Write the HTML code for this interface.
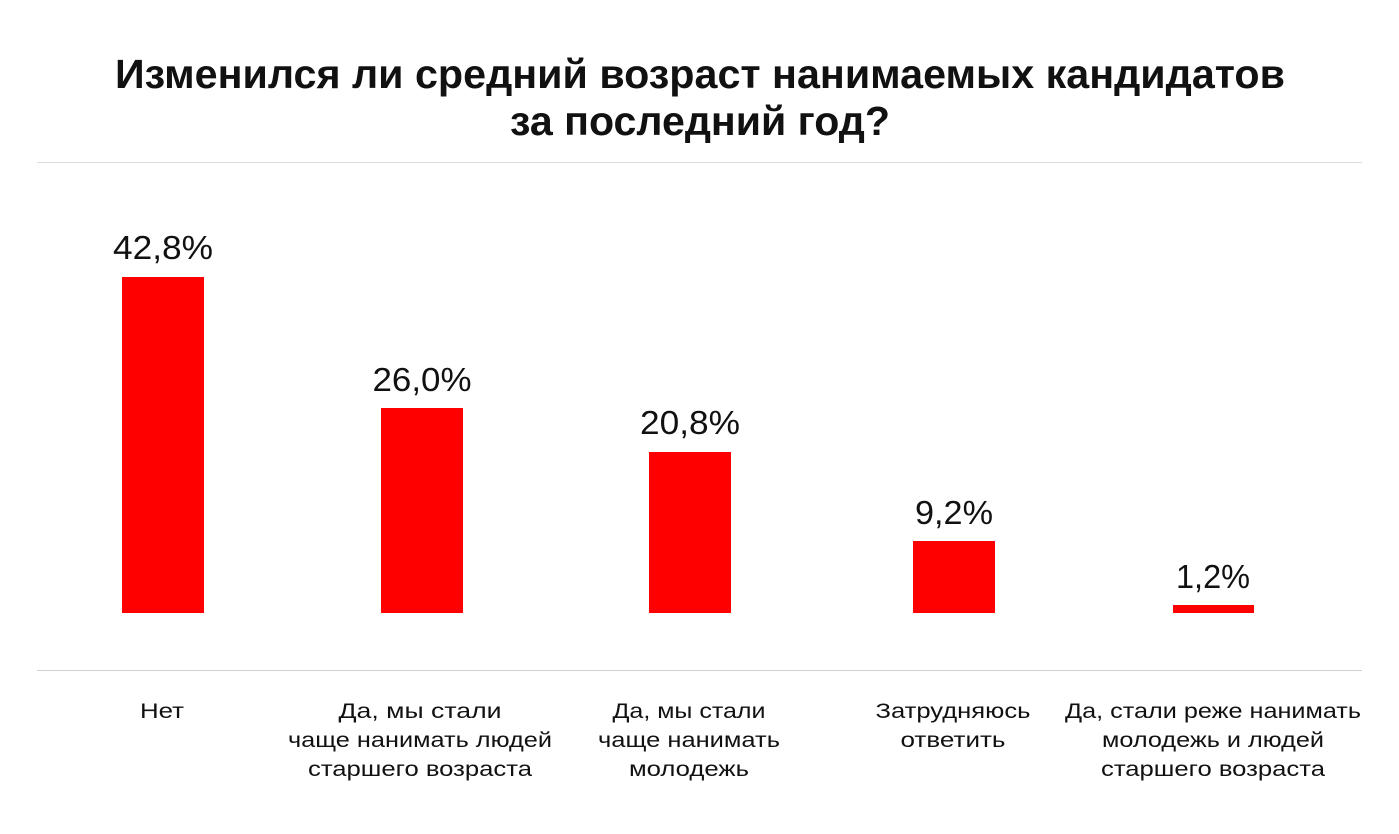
<!DOCTYPE html>
<html><head><meta charset="utf-8"><style>
html,body{margin:0;padding:0;background:#fff;}
svg{display:block;}
text{font-family:"Liberation Sans",sans-serif;fill:#111;}
</style></head><body>
<svg width="1399" height="834" viewBox="0 0 1399 834">
<text x="700" y="88" text-anchor="middle" font-size="41" font-weight="bold" fill="#262626" textLength="1170" lengthAdjust="spacingAndGlyphs">Изменился ли средний возраст нанимаемых кандидатов</text>
<text x="700" y="135" text-anchor="middle" font-size="41" font-weight="bold" fill="#262626" textLength="380" lengthAdjust="spacingAndGlyphs">за последний год?</text>
<line x1="37" y1="162.5" x2="1362" y2="162.5" stroke="#dcdcdc" stroke-width="1"/>
<line x1="37" y1="670.5" x2="1362" y2="670.5" stroke="#d0d0d0" stroke-width="1"/>
<g fill="#ff0000">
<rect x="122" y="277" width="82" height="336"/>
<rect x="381" y="408" width="82" height="205"/>
<rect x="649" y="452" width="82" height="161"/>
<rect x="913" y="541" width="82" height="72"/>
<rect x="1173" y="605" width="81" height="8"/>
</g>
<g font-size="33" text-anchor="middle">
<text x="163" y="259" textLength="100" lengthAdjust="spacingAndGlyphs">42,8%</text>
<text x="422" y="391" textLength="99" lengthAdjust="spacingAndGlyphs">26,0%</text>
<text x="690" y="434" textLength="100" lengthAdjust="spacingAndGlyphs">20,8%</text>
<text x="954" y="524" textLength="78" lengthAdjust="spacingAndGlyphs">9,2%</text>
<text x="1213" y="588" textLength="74" lengthAdjust="spacingAndGlyphs">1,2%</text>
</g>
<g font-size="21" text-anchor="middle">
<text x="162" y="718" textLength="44" lengthAdjust="spacingAndGlyphs">Нет</text>
<text x="420" y="718" textLength="163" lengthAdjust="spacingAndGlyphs">Да, мы стали</text>
<text x="420" y="747" textLength="264" lengthAdjust="spacingAndGlyphs">чаще нанимать людей</text>
<text x="420" y="776" textLength="224" lengthAdjust="spacingAndGlyphs">старшего возраста</text>
<text x="689" y="718" textLength="153" lengthAdjust="spacingAndGlyphs">Да, мы стали</text>
<text x="689" y="747" textLength="182" lengthAdjust="spacingAndGlyphs">чаще нанимать</text>
<text x="689" y="776" textLength="120" lengthAdjust="spacingAndGlyphs">молодежь</text>
<text x="953" y="718" textLength="155" lengthAdjust="spacingAndGlyphs">Затрудняюсь</text>
<text x="953" y="747" textLength="105" lengthAdjust="spacingAndGlyphs">ответить</text>
<text x="1213" y="718" textLength="296" lengthAdjust="spacingAndGlyphs">Да, стали реже нанимать</text>
<text x="1213" y="747" textLength="222" lengthAdjust="spacingAndGlyphs">молодежь и людей</text>
<text x="1213" y="776" textLength="224" lengthAdjust="spacingAndGlyphs">старшего возраста</text>
</g>
</svg>
</body></html>
